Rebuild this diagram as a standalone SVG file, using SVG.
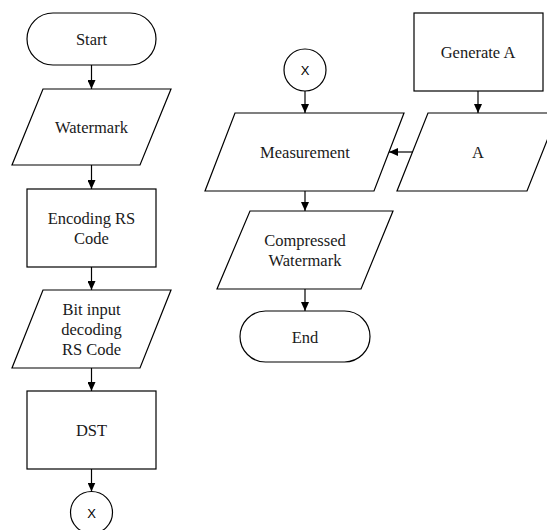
<svg xmlns="http://www.w3.org/2000/svg" width="547" height="530" viewBox="0 0 547 530">
<style>
.s{fill:#fff;stroke:#000;stroke-width:1.2}
.t{font-family:"Liberation Serif","Times New Roman",serif;font-size:16.5px;fill:#1a1a1a;text-anchor:middle}
.x{font-family:"Liberation Sans",Arial,sans-serif;font-size:13px;fill:#000;text-anchor:middle}
.c line{stroke:#000;stroke-width:1.2;marker-end:url(#ah)}
</style>
<defs>
<marker id="ah" markerUnits="userSpaceOnUse" markerWidth="9" markerHeight="8" refX="9" refY="4" orient="auto">
<path d="M0,0 L9,4 L0,8 z" fill="#000"/>
</marker>
</defs>
<rect width="547" height="530" fill="#fff"/>
<g class="c" id="connectors">
<line x1="91.5" y1="65" x2="91.5" y2="89"/>
<line x1="91.5" y1="165" x2="91.5" y2="189"/>
<line x1="91.5" y1="267" x2="91.5" y2="290"/>
<line x1="91.5" y1="368" x2="91.5" y2="391"/>
<line x1="91.5" y1="469" x2="91.5" y2="491.5"/>
<line x1="305" y1="91" x2="305" y2="113"/>
<line x1="305" y1="191" x2="305" y2="211"/>
<line x1="305" y1="289" x2="305" y2="311"/>
<line x1="478" y1="91" x2="478" y2="113"/>
<line x1="413" y1="152" x2="389" y2="152"/>
</g>
<g id="start">
<rect class="s" x="27" y="13" width="129" height="52" rx="26"/>
<text class="t" x="91.5" y="45">Start</text>
</g>
<g id="watermark">
<polygon class="s" points="43,89 171,89 140,165 12,165"/>
<text class="t" x="91.5" y="133">Watermark</text>
</g>
<g id="encoding">
<rect class="s" x="27" y="189" width="129" height="78"/>
<text class="t" x="91.5" y="224">Encoding RS</text>
<text class="t" x="91.5" y="243.5">Code</text>
</g>
<g id="bitinput">
<polygon class="s" points="43,290 171,290 140,368 12,368"/>
<text class="t" x="91.5" y="315">Bit input</text>
<text class="t" x="91.5" y="335">decoding</text>
<text class="t" x="91.5" y="355">RS Code</text>
</g>
<g id="dst">
<rect class="s" x="27" y="391" width="129" height="78"/>
<text class="t" x="91.5" y="436">DST</text>
</g>
<g id="x1">
<circle class="s" cx="91.5" cy="512.5" r="21"/>
<text class="x" x="91.5" y="517.5">X</text>
</g>
<g id="x2">
<circle class="s" cx="305" cy="70" r="21"/>
<text class="x" x="305" y="75">X</text>
</g>
<g id="measurement">
<polygon class="s" points="235,113 404,113 374,191 205,191"/>
<text class="t" x="305" y="157.5">Measurement</text>
</g>
<g id="compressed">
<polygon class="s" points="250,211 393,211 361,289 217,289"/>
<text class="t" x="305" y="245.5">Compressed</text>
<text class="t" x="305" y="266">Watermark</text>
</g>
<g id="end">
<rect class="s" x="240" y="311" width="130" height="51" rx="25.5"/>
<text class="t" x="305" y="342.5">End</text>
</g>
<g id="generateA">
<rect class="s" x="414" y="13" width="129" height="78"/>
<text class="t" x="478" y="58">Generate A</text>
</g>
<g id="A">
<polygon class="s" points="428,113 558,113 527,191 397,191"/>
<text class="t" x="478" y="157.5">A</text>
</g>
</svg>
